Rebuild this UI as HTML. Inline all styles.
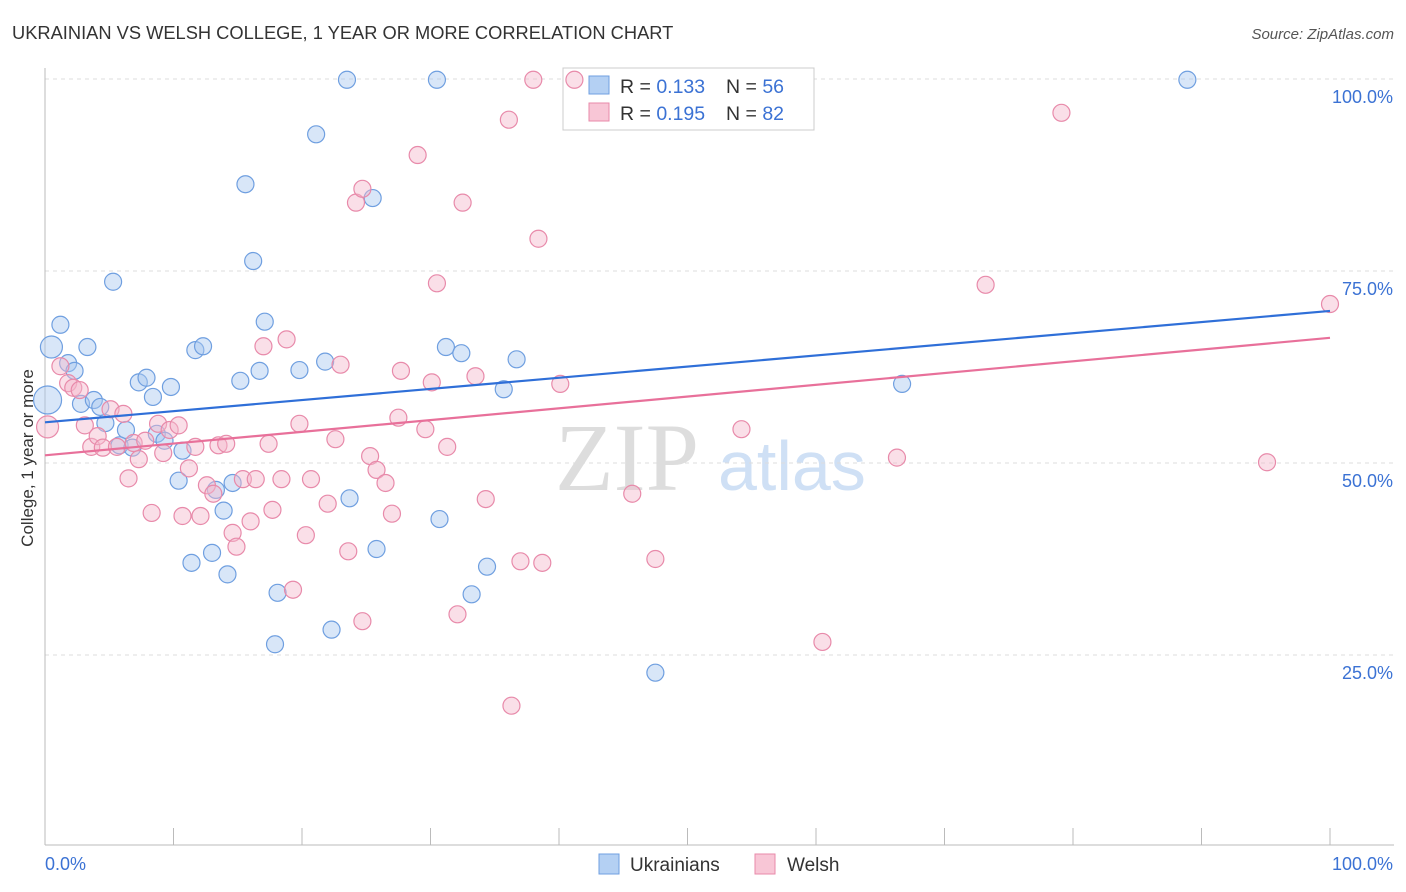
<!DOCTYPE html>
<html><head><meta charset="utf-8"><style>
html,body{margin:0;padding:0;background:#fff;width:1406px;height:892px;overflow:hidden;font-family:"Liberation Sans",sans-serif}
svg{position:absolute;left:0;top:0}
</style></head><body>
<svg id="chart" width="1406" height="892">
<text x="12" y="39" font-size="18.3" fill="#333">UKRAINIAN VS WELSH COLLEGE, 1 YEAR OR MORE CORRELATION CHART</text>
<text x="1394" y="39" font-size="15" fill="#555" font-style="italic" text-anchor="end">Source: ZipAtlas.com</text>
<text x="0" y="0" transform="translate(33,458) rotate(-90)" font-size="17" fill="#333" text-anchor="middle">College, 1 year or more</text>
<text x="555" y="490" font-size="96" fill="#ddd" font-family="Liberation Serif,serif">ZIP</text>
<text x="718" y="490" font-size="70" fill="#cfe0f5">atlas</text>
<g id="grid"></g><g id="axes"></g>
<g>
<rect x="563" y="68" width="251" height="62" fill="#fff" stroke="#ccc"/>
<rect x="589" y="76" width="20" height="18" fill="#b4d0f3" stroke="#6f9fe0"/>
<text x="620" y="93" font-size="19.5" fill="#333">R = <tspan fill="#3b72d4">0.133</tspan></text>
<text x="726" y="93" font-size="19.5" fill="#333">N = <tspan fill="#3b72d4">56</tspan></text>
<rect x="589" y="103" width="20" height="18" fill="#f8c6d6" stroke="#e88aaa"/>
<text x="620" y="120" font-size="19.5" fill="#333">R = <tspan fill="#3b72d4">0.195</tspan></text>
<text x="726" y="120" font-size="19.5" fill="#333">N = <tspan fill="#3b72d4">82</tspan></text>
</g>
<g id="pts"></g><g id="lines"></g>
<g>
<rect x="599" y="854" width="20" height="20" fill="#b4d0f3" stroke="#6f9fe0"/>
<text x="630" y="871" font-size="19" fill="#333">Ukrainians</text>
<rect x="755" y="854" width="20" height="20" fill="#f8c6d6" stroke="#e88aaa"/>
<text x="787" y="871" font-size="19" fill="#333">Welsh</text>
</g>
</svg>
<script>
const yTicks=[25,50,75,100];
const yTickLabels=["25.0%","50.0%","75.0%","100.0%"];
const xEndLabels=["0.0%","100.0%"];
const blueX=[0.5,0.2,1.2,1.8,2.3,3.3,2.8,3.8,4.3,4.7,5.3,6.3,5.8,6.8,7.3,7.9,8.4,8.7,9.3,9.8,10.4,10.7,11.4,11.7,12.3,13.0,13.3,13.9,14.2,14.6,15.2,15.6,16.2,16.7,17.1,17.9,18.1,19.8,21.1,21.8,22.3,23.5,23.7,25.5,25.8,30.5,30.7,31.2,32.4,33.2,34.4,35.7,36.7,47.5,66.7,88.9];
const blueY=[65.1,58.2,68.0,63.0,62.0,65.1,57.7,58.2,57.3,55.2,73.6,54.3,52.3,52.0,60.5,61.1,58.6,53.8,52.9,59.9,47.7,51.6,37.0,64.7,65.2,38.3,46.5,43.8,35.5,47.4,60.7,86.3,76.3,62.0,68.4,26.4,33.1,62.1,92.8,63.2,28.3,99.9,45.4,84.5,38.8,99.9,42.7,65.1,64.3,32.9,36.5,59.6,63.5,22.7,60.3,99.9];
const pinkX=[0.2,1.2,1.8,2.2,2.7,3.1,3.6,4.1,4.5,5.1,5.6,6.1,6.5,6.9,7.3,7.8,8.3,8.8,9.2,9.7,10.4,10.7,11.2,11.7,12.1,12.6,13.1,13.5,14.1,14.6,14.9,15.4,16.0,16.4,17.0,17.4,17.7,18.4,18.8,19.3,19.8,20.3,20.7,22.0,22.6,23.0,23.6,24.2,24.7,24.7,25.3,25.8,26.5,27.0,27.5,27.7,29.0,29.6,30.1,30.5,31.3,32.1,32.5,33.5,34.3,36.1,36.3,37.0,38.0,38.4,38.7,40.1,41.2,45.7,47.5,54.2,60.5,66.3,73.2,79.1,95.1,100];
const pinkY=[54.7,62.6,60.4,59.8,59.5,54.9,52.1,53.5,52.0,57.0,52.1,56.4,48.0,52.6,50.5,52.9,43.5,55.1,51.3,54.3,54.9,43.1,49.3,52.1,43.1,47.1,46.0,52.3,52.5,40.9,39.1,47.9,42.4,47.9,65.2,52.5,43.9,47.9,66.1,33.5,55.1,40.6,47.9,44.7,53.1,62.8,38.5,83.9,29.4,85.7,50.9,49.1,47.4,43.4,55.9,62.0,90.1,54.4,60.5,73.4,52.1,30.3,83.9,61.3,45.3,94.7,18.4,37.2,99.9,79.2,37.0,60.3,99.9,46.0,37.5,54.4,26.7,50.7,73.2,95.6,50.1,70.7];
const blueTrend=[55.3,69.8];
const pinkTrend=[51.0,66.3];
const NS="http://www.w3.org/2000/svg";
const X=v=>45+v*12.85, Y=v=>847-v*7.68;
function mk(tag,attrs,parent){const e=document.createElementNS(NS,tag);for(const k in attrs)e.setAttribute(k,attrs[k]);document.getElementById(parent).appendChild(e);return e;}
yTicks.forEach((t,i)=>{
 const g=mk('line',{x1:45,x2:1394,y1:Y(t),y2:Y(t),stroke:'#ddd','stroke-dasharray':'4,4'},'grid');
 
 
 const l=mk('text',{x:1393,y:Y(t)+24,'font-size':18,fill:'#3b72d4','text-anchor':'end'},'grid');
 l.textContent=yTickLabels[i];
 
 
});
const ax=mk('line',{x1:45,x2:1394,y1:845,y2:845,stroke:'#bbb'},'axes');


const ay=mk('line',{x1:45,x2:45,y1:68,y2:845,stroke:'#bbb'},'axes');


for(let i=0;i<=10;i++){
 const t=mk('line',{x1:X(i*10),x2:X(i*10),y1:828,y2:845,stroke:'#bbb'},'axes');
 
 
}
[[0,'start',45],[1,'end',1393]].forEach(([i,a,x])=>{
 const t=mk('text',{x:x,y:870,'font-size':18,fill:'#3b72d4','text-anchor':a},'axes');
 t.textContent=xEndLabels[i];
 
 
});
function pts(xs,ys,fill,stroke,name){
 xs.forEach((x,i)=>{
  const r=(x<0.6&&i<2)?(i===1?14:11):8.5;
  const c=mk('circle',{cx:X(x),cy:Y(ys[i]),r:r,fill:fill,'fill-opacity':0.45,stroke:stroke,'stroke-width':1.2},'pts');
  
  
 });
}
pts(blueX,blueY,'#a9c8f0','#6f9fe0','ukrainian-point');
pts(pinkX,pinkY,'#f5b8cc','#e88aaa','welsh-point');
const bl=mk('line',{x1:X(0),x2:X(100),y1:Y(blueTrend[0]),y2:Y(blueTrend[1]),stroke:'#2f6fd8','stroke-width':2.2},'lines');


const pl=mk('line',{x1:X(0),x2:X(100),y1:Y(pinkTrend[0]),y2:Y(pinkTrend[1]),stroke:'#e8709a','stroke-width':2.2},'lines');


</script>
</body></html>
